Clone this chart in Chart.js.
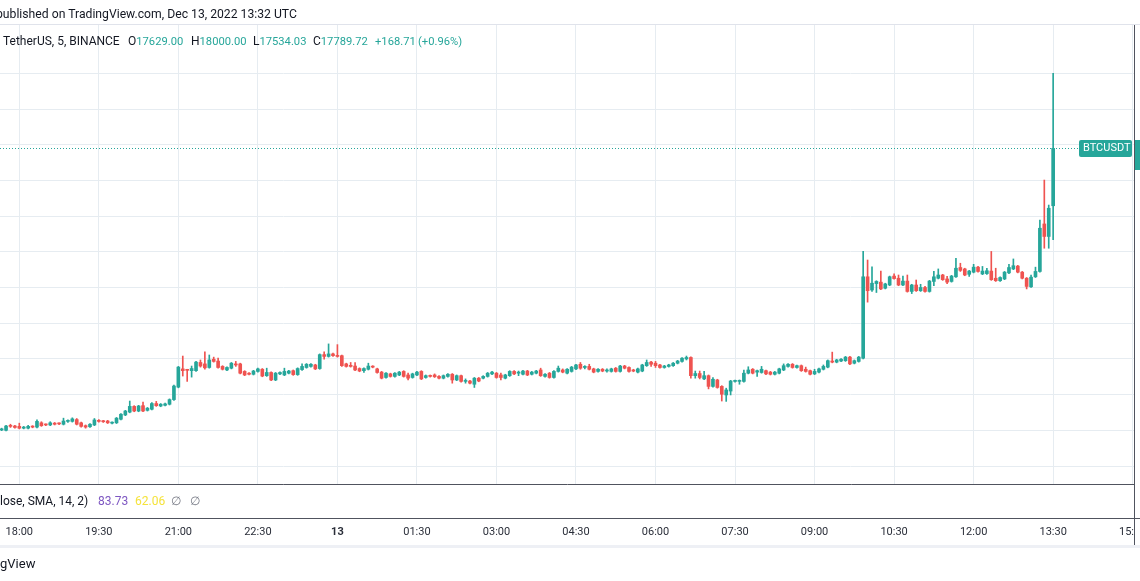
<!DOCTYPE html>
<html>
<head>
<meta charset="utf-8">
<script src="https://cdn.jsdelivr.net/npm/chart.js@4.4.0/dist/chart.umd.min.js"></script>
<style>
  html, body { margin: 0; padding: 0; background: #fff; }
  #wrap { position: relative; width: 1140px; height: 581px; overflow: hidden; font-family: Roboto, sans-serif; color: #131722; }
  #chart { position: absolute; left: 0; top: 0; }
  .txt { position: absolute; white-space: pre; line-height: 1; }
  .pre { position: absolute; right: 100%; top: 0; }
  .leg { top: 35px; font-size: 12px; }
  .leg .up, .leg.up { color: #26a69a; font-size: 11.2px; }
</style>
</head>
<body>
<div id="wrap">
  <canvas id="chart" width="1140" height="581"></canvas>
  <div class="txt" style="left:-4px; top:8px; font-size:12.2px;">published on TradingView.com, Dec 13, 2022 13:32 UTC</div>
  <div class="txt leg" style="left:3px;"><span class="pre">Bitcoin / </span>TetherUS, 5, BINANCE</div>
  <div class="txt leg" style="left:128px;">O<span class="up">17629.00</span></div>
  <div class="txt leg" style="left:191px;">H<span class="up">18000.00</span></div>
  <div class="txt leg" style="left:253px;">L<span class="up">17534.03</span></div>
  <div class="txt leg" style="left:313px;">C<span class="up">17789.72</span></div>
  <div class="txt leg up" style="left:375px; top:36px;">+168.71</div>
  <div class="txt leg up" style="left:418px; top:36px;">(+0.96%)</div>
  <div class="txt" style="left:0; top:495px; font-size:12px; color:#131722;"><span class="pre">RSI (14, c</span>lose, SMA, 14, 2)</div>
  <div class="txt" style="left:98px; top:495px; font-size:12px; color:#7e57c2;">83.73</div>
  <div class="txt" style="left:135px; top:495px; font-size:12px; color:#f5e33b;">62.06</div>
  <div class="txt" style="left:171px; top:495px; font-size:12px; color:#787b86;">∅</div>
  <div class="txt" style="left:190px; top:495px; font-size:12px; color:#787b86;">∅</div>
  <div class="txt" style="left:0; top:557px; font-size:13px;"><span class="pre">Tradin</span>gView</div>
</div>
<script>
// BTCUSDT 5m candles, index 0 = 18:00 (Dec 12), first visible candle at -4
const firstCandle = -4;
const timeLabels = ['18:00', '19:30', '21:00', '22:30', '13', '01:30', '03:00', '04:30', '06:00', '07:30', '09:00', '10:30', '12:00', '13:30', '15:00'];

const opens = [
  17001, 17000, 17013, 17012,
  17011, 17006, 17006, 17011, 17009, 17021, 17017, 17015, 17020, 17019,
  17017, 17025, 17025, 17030, 17021, 17013, 17010, 17015, 17027, 17026,
  17026, 17020, 17021, 17031, 17043, 17051, 17067, 17054, 17069, 17056,
  17059, 17075, 17068, 17070, 17073, 17086, 17121, 17172, 17170, 17167,
  17167, 17190, 17186, 17176, 17199, 17194, 17179, 17169, 17174, 17186,
  17186, 17165, 17160, 17157, 17165, 17171, 17153, 17162, 17141, 17158,
  17155, 17160, 17167, 17156, 17170, 17176, 17179, 17183, 17173, 17212,
  17207, 17214, 17209, 17209, 17186, 17182, 17180, 17173, 17167, 17171,
  17179, 17172, 17163, 17148, 17158, 17151, 17155, 17165, 17155, 17148,
  17155, 17165, 17148, 17153, 17155, 17151, 17146, 17151, 17157, 17141,
  17153, 17137, 17138, 17129, 17146, 17146, 17151, 17158, 17160, 17155,
  17146, 17153, 17165, 17160, 17157, 17166, 17157, 17160, 17169, 17151,
  17160, 17148, 17165, 17169, 17160, 17165, 17172, 17185, 17176, 17179,
  17172, 17165, 17171, 17166, 17165, 17174, 17165, 17180, 17176, 17169,
  17163, 17166, 17181, 17191, 17188, 17183, 17176, 17179, 17181, 17188,
  17193, 17200, 17204, 17153, 17159, 17144, 17153, 17123, 17141, 17123,
  17099, 17110, 17137, 17137, 17137, 17160, 17171, 17163, 17162, 17167,
  17163, 17157, 17160, 17169, 17179, 17185, 17176, 17181, 17171, 17167,
  17158, 17163, 17171, 17177, 17194, 17191, 17194, 17195, 17205, 17188,
  17193, 17202, 17430, 17393, 17411, 17415, 17398, 17407, 17432, 17426,
  17407, 17418, 17389, 17407, 17391, 17400, 17389, 17417, 17426, 17435,
  17424, 17417, 17430, 17456, 17452, 17437, 17443, 17457, 17438, 17439,
  17446, 17426, 17419, 17424, 17441, 17452, 17460, 17443, 17426, 17402,
  17430, 17445, 17578, 17543, 17629
];

const highs = [
  17006, 17014, 17017, 17014,
  17020, 17011, 17014, 17013, 17029, 17024, 17018, 17024, 17022, 17021,
  17034, 17029, 17035, 17033, 17023, 17015, 17019, 17033, 17030, 17028,
  17028, 17024, 17036, 17047, 17056, 17082, 17069, 17070, 17079, 17064,
  17078, 17081, 17075, 17076, 17088, 17127, 17179, 17208, 17171, 17180,
  17193, 17197, 17220, 17211, 17205, 17202, 17181, 17178, 17190, 17193,
  17188, 17167, 17162, 17168, 17174, 17173, 17174, 17164, 17162, 17164,
  17174, 17168, 17169, 17175, 17186, 17187, 17187, 17185, 17214, 17220,
  17242, 17216, 17240, 17211, 17188, 17190, 17190, 17175, 17175, 17188,
  17181, 17174, 17165, 17162, 17160, 17162, 17165, 17167, 17160, 17160,
  17165, 17167, 17155, 17155, 17158, 17153, 17155, 17159, 17159, 17155,
  17155, 17144, 17140, 17148, 17148, 17153, 17162, 17165, 17162, 17160,
  17157, 17167, 17167, 17166, 17168, 17168, 17165, 17168, 17174, 17159,
  17162, 17167, 17180, 17172, 17173, 17179, 17185, 17190, 17181, 17185,
  17174, 17173, 17173, 17172, 17174, 17176, 17182, 17182, 17178, 17171,
  17174, 17185, 17197, 17193, 17193, 17185, 17182, 17185, 17190, 17196,
  17204, 17208, 17206, 17166, 17166, 17165, 17155, 17148, 17143, 17125,
  17118, 17140, 17141, 17141, 17169, 17178, 17173, 17169, 17179, 17169,
  17165, 17165, 17174, 17186, 17187, 17187, 17183, 17183, 17177, 17169,
  17171, 17174, 17183, 17197, 17219, 17199, 17201, 17207, 17207, 17197,
  17207, 17501, 17477, 17458, 17419, 17446, 17412, 17432, 17438, 17435,
  17432, 17435, 17409, 17421, 17409, 17403, 17420, 17445, 17452, 17437,
  17431, 17434, 17482, 17468, 17454, 17448, 17465, 17459, 17459, 17454,
  17501, 17454, 17430, 17445, 17465, 17480, 17462, 17445, 17428, 17435,
  17457, 17589, 17701, 17631, 18000
];

const lows = [
  16999, 16998, 17008, 17006,
  17004, 17004, 17004, 17007, 17007, 17011, 17013, 17013, 17015, 17016,
  17015, 17022, 17023, 17015, 17009, 17006, 17008, 17013, 17023, 17022,
  17019, 17018, 17019, 17029, 17041, 17049, 17052, 17052, 17052, 17054,
  17057, 17067, 17066, 17068, 17071, 17084, 17119, 17152, 17137, 17149,
  17165, 17177, 17171, 17174, 17191, 17174, 17169, 17167, 17172, 17179,
  17158, 17153, 17155, 17155, 17163, 17150, 17151, 17139, 17139, 17156,
  17153, 17158, 17154, 17154, 17168, 17174, 17177, 17170, 17171, 17199,
  17205, 17207, 17205, 17179, 17177, 17177, 17167, 17164, 17162, 17169,
  17175, 17160, 17144, 17146, 17149, 17149, 17153, 17149, 17141, 17146,
  17153, 17142, 17146, 17149, 17148, 17144, 17144, 17149, 17132, 17139,
  17135, 17132, 17130, 17120, 17136, 17144, 17149, 17156, 17146, 17141,
  17144, 17151, 17156, 17153, 17155, 17153, 17155, 17158, 17151, 17149,
  17146, 17146, 17163, 17161, 17158, 17163, 17170, 17171, 17172, 17169,
  17161, 17163, 17164, 17163, 17163, 17163, 17163, 17172, 17163, 17164,
  17161, 17164, 17179, 17179, 17176, 17174, 17174, 17177, 17179, 17186,
  17191, 17197, 17146, 17146, 17144, 17142, 17116, 17121, 17118, 17082,
  17081, 17099, 17135, 17129, 17135, 17158, 17158, 17151, 17160, 17156,
  17155, 17155, 17158, 17167, 17177, 17174, 17174, 17165, 17163, 17155,
  17156, 17161, 17169, 17175, 17189, 17189, 17192, 17193, 17184, 17186,
  17191, 17200, 17359, 17389, 17386, 17394, 17396, 17405, 17423, 17405,
  17405, 17387, 17383, 17389, 17389, 17387, 17387, 17405, 17424, 17420,
  17411, 17415, 17428, 17445, 17433, 17431, 17441, 17443, 17436, 17437,
  17420, 17417, 17417, 17422, 17439, 17450, 17441, 17424, 17396, 17400,
  17428, 17443, 17510, 17510, 17534.03
];

const closes = [
  17004, 17012, 17011, 17008,
  17006, 17009, 17011, 17009, 17025, 17013, 17015, 17021, 17017, 17018,
  17026, 17026, 17032, 17017, 17011, 17009, 17017, 17029, 17025, 17024,
  17021, 17022, 17034, 17045, 17054, 17067, 17054, 17068, 17054, 17062,
  17075, 17069, 17073, 17074, 17086, 17124, 17177, 17167, 17168, 17173,
  17191, 17180, 17175, 17197, 17193, 17176, 17171, 17176, 17188, 17183,
  17160, 17155, 17157, 17166, 17172, 17152, 17162, 17141, 17160, 17162,
  17165, 17166, 17156, 17173, 17179, 17185, 17185, 17172, 17212, 17207,
  17214, 17209, 17207, 17181, 17179, 17179, 17169, 17166, 17173, 17180,
  17177, 17162, 17146, 17160, 17151, 17160, 17163, 17151, 17146, 17158,
  17163, 17144, 17153, 17151, 17150, 17146, 17153, 17157, 17141, 17153,
  17137, 17138, 17132, 17146, 17138, 17151, 17160, 17163, 17148, 17148,
  17155, 17165, 17158, 17163, 17166, 17155, 17163, 17166, 17153, 17157,
  17148, 17165, 17174, 17163, 17171, 17177, 17183, 17174, 17179, 17171,
  17163, 17171, 17166, 17169, 17172, 17165, 17180, 17174, 17165, 17166,
  17172, 17183, 17190, 17185, 17181, 17176, 17180, 17183, 17188, 17194,
  17202, 17204, 17153, 17159, 17148, 17153, 17123, 17143, 17120, 17101,
  17113, 17138, 17139, 17139, 17160, 17169, 17160, 17167, 17171, 17158,
  17157, 17163, 17172, 17181, 17185, 17176, 17181, 17167, 17165, 17157,
  17165, 17172, 17179, 17195, 17191, 17197, 17199, 17205, 17186, 17195,
  17205, 17430, 17391, 17412, 17417, 17396, 17410, 17430, 17425, 17407,
  17418, 17389, 17407, 17391, 17400, 17389, 17418, 17430, 17435, 17422,
  17415, 17432, 17454, 17448, 17435, 17446, 17457, 17445, 17446, 17447,
  17422, 17419, 17428, 17443, 17456, 17461, 17443, 17426, 17403, 17429,
  17445, 17566, 17543, 17622, 17789.72
];

const upColor = '#26a69a';
const downColor = '#ef5350';
const gridColor = '#e6ecf1';
const axisLine = '#50535e';

const candleX = opens.map((o, k) => firstCandle + k);
const candleColors = opens.map((o, k) => closes[k] >= o ? upColor : downColor);
const lastClose = closes[closes.length - 1];

// price line, symbol label and pane separators
const chromePlugin = {
  id: 'chrome',
  afterDraw(chart) {
    const { ctx, chartArea, scales } = chart;
    const py = Math.round(scales.y.getPixelForValue(lastClose)) + 0.5;
    const boxLeft = 1079;
    ctx.save();
    ctx.fillStyle = '#e0e3eb';
    ctx.fillRect(0, chartArea.top - 1, chart.width, 1);

    ctx.strokeStyle = upColor;
    ctx.lineWidth = 1;
    ctx.setLineDash([1, 2]);
    ctx.beginPath();
    ctx.moveTo(chartArea.left, py);
    ctx.lineTo(boxLeft, py);
    ctx.stroke();
    ctx.setLineDash([]);

    ctx.fillStyle = upColor;
    ctx.beginPath();
    ctx.roundRect(boxLeft, py - 8.5, 53, 17, 2);
    ctx.fill();
    ctx.fillStyle = '#ffffff';
    ctx.font = '11px Roboto';
    ctx.textBaseline = 'middle';
    ctx.fillText('BTCUSDT', boxLeft + 4, py);

    // price axis column is cut off at the right edge
    ctx.fillRect(chartArea.right + 1, chartArea.bottom + 1, chart.width - chartArea.right, 544 - chartArea.bottom);
    ctx.fillStyle = upColor;
    ctx.fillRect(chartArea.right + 1, py - 8.5, 6, 30);

    ctx.fillStyle = axisLine;
    ctx.fillRect(0, 518, chart.width, 1);
    ctx.fillRect(chartArea.right, chartArea.top, 1, 545 - chartArea.top);
    ctx.fillStyle = '#eef0f5';
    ctx.fillRect(0, 545, chart.width, 3);
    ctx.restore();
  }
};

const ctx = document.getElementById('chart').getContext('2d');
new Chart(ctx, {
  type: 'bar',
  data: {
    datasets: [
      {
        label: 'body',
        data: candleX.map((x, k) => ({ x: x, y: [opens[k], closes[k]] })),
        backgroundColor: candleColors,
        barThickness: 3,
        minBarLength: 1,
        grouped: false,
        order: 0
      },
      {
        label: 'wick',
        data: candleX.map((x, k) => ({ x: x, y: [lows[k], highs[k]] })),
        backgroundColor: candleColors,
        barThickness: 1,
        grouped: false,
        order: 1
      }
    ]
  },
  options: {
    responsive: false,
    animation: false,
    layout: { padding: { top: 25, left: 0, right: 0, bottom: 0 } },
    plugins: { legend: { display: false }, tooltip: { enabled: false } },
    scales: {
      x: {
        type: 'linear',
        min: -4.37,
        max: 252.3,
        offset: false,
        grid: { color: gridColor, drawTicks: false, offset: false },
        border: { color: axisLine },
        ticks: {
          stepSize: 18,
          includeBounds: false,
          autoSkip: false,
          maxRotation: 0,
          padding: 42,
          color: '#2a2e39',
          font: (c) => ({ family: 'Roboto', size: 11, weight: c.tick && c.tick.value === 72 ? 'bold' : 'normal' }),
          callback: (v) => timeLabels[v / 18]
        },
        afterFit: (s) => { s.height = 97; s.paddingLeft = 0; s.paddingRight = 0; }
      },
      y: {
        position: 'right',
        min: 16849.6,
        max: 18135.3,
        grid: {
          // the top line sits under the legend row and is not drawn
          color: (c) => (c.tick && c.tick.value > 18050 ? 'rgba(0,0,0,0)' : gridColor),
          drawTicks: false
        },
        border: { color: axisLine },
        ticks: { display: false, stepSize: 100, includeBounds: false },
        afterFit: (s) => { s.width = 6; }
      }
    }
  },
  plugins: [chromePlugin]
});
</script>
</body>
</html>
